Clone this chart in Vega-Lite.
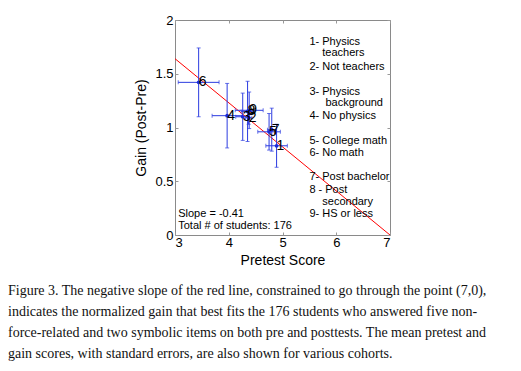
{
  "$schema": "https://vega.github.io/schema/vega-lite/v6.json",
  "width": 215,
  "height": 215,
  "autosize": "none",
  "padding": {"left": 175, "top": 20, "right": 131, "bottom": 136},
  "background": "white",
  "config": {
    "view": {"stroke": "#8a8a8a", "strokeWidth": 1},
    "font": "Liberation Sans",
    "axis": {"grid": false, "domain": false, "tickColor": "#999999", "tickSize": -3, "labelColor": "black", "labelFont": "Liberation Sans", "labelFontSize": 13, "titleFont": "Liberation Sans", "titleFontSize": 14, "titleFontWeight": "normal", "titleColor": "black", "format": "~g"}
  },
  "title": {
    "text": [
      "Figure 3. The negative slope of the red line, constrained to go through the point (7,0),",
      "indicates the normalized gain that best fits the 176 students who answered five non-",
      "force-related and two symbolic items on both pre and posttests. The mean pretest and",
      "gain scores, with standard errors,  are also shown for various cohorts."
    ],
    "orient": "bottom",
    "anchor": "start",
    "frame": "group",
    "dx": -167,
    "offset": 17,
    "font": "Liberation Serif",
    "fontSize": 14,
    "fontWeight": "normal",
    "color": "#111111",
    "lineHeight": 21
  },
  "datasets": {
    "cohorts": [
      {"cohort": "6", "pretest": 3.44, "gain": 1.42, "xerr": 0.38, "yerr": 0.32},
      {"cohort": "4", "pretest": 3.97, "gain": 1.11, "xerr": 0.28, "yerr": 0.30},
      {"cohort": "3", "pretest": 4.26, "gain": 1.10, "xerr": 0.13, "yerr": 0.22},
      {"cohort": "2", "pretest": 4.37, "gain": 1.09, "xerr": 0.06, "yerr": 0.06},
      {"cohort": "8", "pretest": 4.35, "gain": 1.15, "xerr": 0.12, "yerr": 0.28},
      {"cohort": "9", "pretest": 4.38, "gain": 1.16, "xerr": 0.26, "yerr": 0.17},
      {"cohort": "5", "pretest": 4.75, "gain": 0.96, "xerr": 0.21, "yerr": 0.17},
      {"cohort": "7", "pretest": 4.80, "gain": 0.98, "xerr": 0.08, "yerr": 0.20},
      {"cohort": "1", "pretest": 4.89, "gain": 0.83, "xerr": 0.20, "yerr": 0.20}
    ],
    "fit": [
      {"pretest": 3, "gain": 1.64},
      {"pretest": 7, "gain": 0}
    ],
    "notes": [
      {"pretest": 5.5, "gain": 1.793, "label": "1- Physics"},
      {"pretest": 5.74, "gain": 1.690, "label": "teachers"},
      {"pretest": 5.5, "gain": 1.566, "label": "2- Not teachers"},
      {"pretest": 5.5, "gain": 1.333, "label": "3- Physics"},
      {"pretest": 5.8, "gain": 1.225, "label": "background"},
      {"pretest": 5.5, "gain": 1.107, "label": "4- No physics"},
      {"pretest": 5.5, "gain": 0.877, "label": "5- College math"},
      {"pretest": 5.5, "gain": 0.766, "label": "6- No math"},
      {"pretest": 5.5, "gain": 0.537, "label": "7- Post bachelor"},
      {"pretest": 5.5, "gain": 0.419, "label": "8 - Post"},
      {"pretest": 5.74, "gain": 0.307, "label": "secondary"},
      {"pretest": 5.5, "gain": 0.195, "label": "9- HS or less"},
      {"pretest": 3.06, "gain": 0.195, "label": "Slope = -0.41"},
      {"pretest": 3.06, "gain": 0.081, "label": "Total # of students: 176"}
    ]
  },
  "layer": [
    {
      "data": {"name": "fit"},
      "mark": {"type": "line", "color": "#ff0000", "strokeWidth": 1, "clip": true},
      "encoding": {
        "x": {"field": "pretest", "type": "quantitative", "scale": {"domain": [3, 7], "nice": false, "zero": false}, "axis": {"title": "Pretest Score", "values": [3, 4, 5, 6, 7], "labelPadding": 4, "titlePadding": 4}},
        "y": {"field": "gain", "type": "quantitative", "scale": {"domain": [0, 2], "nice": false, "zero": false}, "axis": {"title": "Gain (Post-Pre)", "values": [0, 0.5, 1, 1.5, 2], "labelPadding": 5, "titlePadding": 6}}
      }
    },
    {
      "data": {"name": "cohorts"},
      "mark": {"type": "errorbar", "ticks": {"size": 4}, "color": "#2b3be0", "thickness": 1},
      "encoding": {
        "x": {"field": "pretest", "type": "quantitative", "axis": {"orient": "top", "labels": false, "title": null, "values": [3, 4, 5, 6, 7]}},
        "y": {"field": "gain", "type": "quantitative", "axis": {"orient": "right", "labels": false, "title": null, "values": [0, 0.5, 1, 1.5, 2]}},
        "yError": {"field": "yerr"}
      }
    },
    {
      "data": {"name": "cohorts"},
      "mark": {"type": "errorbar", "ticks": {"size": 4}, "color": "#2b3be0", "thickness": 1},
      "encoding": {
        "y": {"field": "gain", "type": "quantitative", "axis": null},
        "x": {"field": "pretest", "type": "quantitative", "axis": null},
        "xError": {"field": "xerr"}
      }
    },
    {
      "data": {"name": "cohorts"},
      "mark": {"type": "circle", "size": 14, "color": "#1a2ad8", "opacity": 1},
      "encoding": {
        "x": {"field": "pretest", "type": "quantitative", "axis": null},
        "y": {"field": "gain", "type": "quantitative", "axis": null}
      }
    },
    {
      "data": {"name": "cohorts"},
      "mark": {"type": "text", "align": "left", "baseline": "middle", "fontSize": 14, "font": "Liberation Sans", "color": "black"},
      "encoding": {
        "x": {"field": "pretest", "type": "quantitative", "axis": null},
        "y": {"field": "gain", "type": "quantitative", "axis": null},
        "text": {"field": "cohort"}
      }
    },
    {
      "data": {"name": "notes"},
      "mark": {"type": "text", "align": "left", "baseline": "middle", "fontSize": 11, "font": "Liberation Sans", "color": "black"},
      "encoding": {
        "x": {"field": "pretest", "type": "quantitative", "axis": null},
        "y": {"field": "gain", "type": "quantitative", "axis": null},
        "text": {"field": "label"}
      }
    }
  ],
  "resolve": {"axis": {"x": "independent", "y": "independent"}}
}
